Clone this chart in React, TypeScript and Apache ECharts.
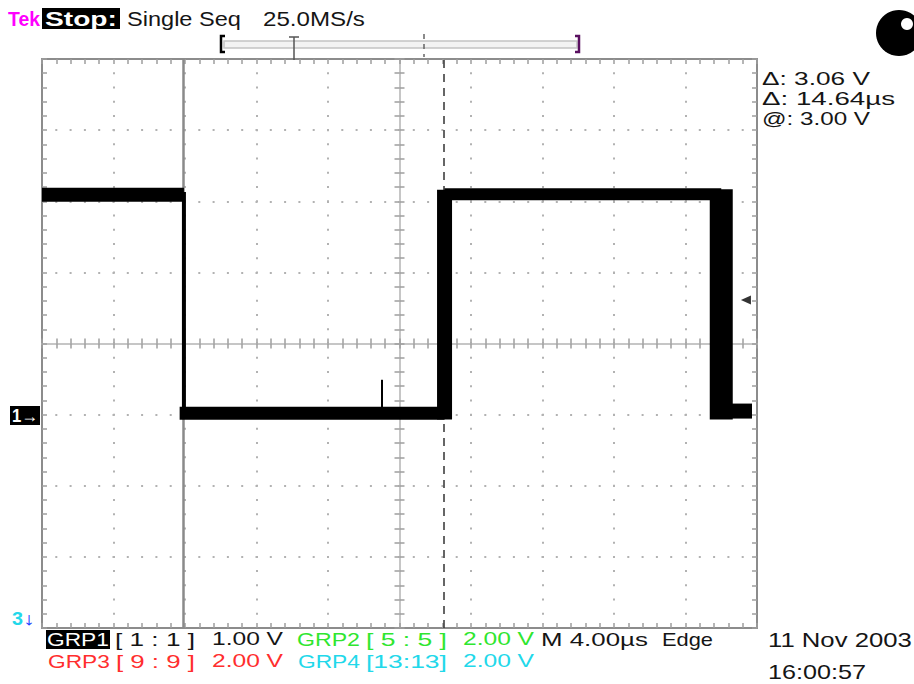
import React, { useEffect, useRef } from 'react';
import * as echarts from 'echarts';

// ---- data (time in µs relative to screen centre, 4 µs/div; level in divisions) ----
const timeRange = [-20, 20];
const levelRange = [-4, 4];
const traceHigh1: [number, number][] = [[-20, 2.09], [-12.06, 2.09]];
const traceFall1: [number, number][] = [[-12.06, 2.13], [-12.06, -0.98]];
const traceLow1: [number, number][] = [[-12.3, -0.98], [2.52, -0.98]];
const traceGlitch: [number, number][] = [[-0.98, -0.98], [-0.98, -0.51]];
const traceRise: [number, number][] = [[2.52, -1.07], [2.52, 2.16]];
const traceHigh2: [number, number][] = [[2.52, 2.1], [18.0, 2.1]];
const traceFall2: [number, number][] = [[18.0, 2.17], [18.0, -1.07]];
const traceLow2: [number, number][] = [[18.0, -0.95], [19.72, -0.95]];
const cursorTimes = [-12.1, 2.45];
const triggerMarker: [number, number][] = [[19.38, 0.61]];

const FONT = '"Liberation Sans", Arial, sans-serif';
const INK = '#151515';
const GREEN = '#2fe62f';
const RED = '#ff2e2e';
const CYAN = '#22d8ea';

type Seg = { t: string; x: number; y: number; w: number; c: string; size: number; bold?: boolean };

const segs: Seg[] = [
  { t: 'Tek', x: 8, y: 19, w: 32, c: '#ff00ff', size: 20, bold: true },
  { t: 'Stop:', x: 45, y: 19, w: 72, c: '#ffffff', size: 20, bold: true },
  { t: 'Single Seq', x: 127, y: 19, w: 114, c: INK, size: 20 },
  { t: '25.0MS/s', x: 263, y: 19, w: 102, c: INK, size: 20 },
  { t: 'Δ: 3.06 V', x: 762, y: 78, w: 108, c: INK, size: 19 },
  { t: 'Δ: 14.64µs', x: 762, y: 98, w: 133, c: INK, size: 19 },
  { t: '@: 3.00 V', x: 762, y: 118, w: 108, c: INK, size: 19 },
  { t: 'GRP1', x: 47, y: 639, w: 62, c: '#ffffff', size: 19 },
  { t: '[ 1 : 1 ]', x: 115, y: 639, w: 80, c: INK, size: 19 },
  { t: '1.00 V', x: 212, y: 639, w: 71, c: INK, size: 19 },
  { t: 'GRP2', x: 297, y: 639, w: 63, c: GREEN, size: 19 },
  { t: '[ 5 : 5 ]', x: 366, y: 639, w: 81, c: GREEN, size: 19 },
  { t: '2.00 V', x: 463, y: 639, w: 71, c: GREEN, size: 19 },
  { t: 'M 4.00µs', x: 541, y: 639, w: 107, c: INK, size: 19 },
  { t: 'Edge', x: 662, y: 639, w: 51, c: INK, size: 19 },
  { t: 'GRP3', x: 48, y: 661, w: 62, c: RED, size: 19 },
  { t: '[ 9 : 9 ]', x: 116, y: 661, w: 79, c: RED, size: 19 },
  { t: '2.00 V', x: 212, y: 661, w: 71, c: RED, size: 19 },
  { t: 'GRP4', x: 298, y: 661, w: 62, c: CYAN, size: 19 },
  { t: '[13:13]', x: 366, y: 661, w: 81, c: CYAN, size: 19 },
  { t: '2.00 V', x: 463, y: 661, w: 71, c: CYAN, size: 19 },
  { t: '11 Nov 2003', x: 768, y: 640, w: 144, c: INK, size: 20 },
  { t: '16:00:57', x: 768, y: 672, w: 98, c: INK, size: 20 },
  { t: '1→', x: 12, y: 416, w: 26, c: '#ffffff', size: 18, bold: true },
  { t: '3', x: 12, y: 619, w: 11, c: CYAN, size: 18, bold: true },
  { t: '↓', x: 23, y: 619, w: 12, c: '#2244ff', size: 18, bold: true },
];

function measure(text: string, size: number, bold?: boolean): number {
  const ctx = document.createElement('canvas').getContext('2d');
  if (!ctx) return text.length * size * 0.55;
  ctx.font = `${bold ? 'bold' : 'normal'} ${size}px ${FONT}`;
  return ctx.measureText(text).width || 1;
}

function textEl(s: Seg) {
  const mw = measure(s.t, s.size, s.bold);
  return {
    type: 'text',
    x: s.x,
    y: s.y,
    scaleX: s.w / mw,
    silent: true,
    z: 10,
    style: {
      text: s.t,
      fill: s.c,
      fontSize: s.size,
      fontFamily: FONT,
      fontWeight: s.bold ? 'bold' : 'normal',
      align: 'left',
      verticalAlign: 'middle',
    },
  };
}

const BORDER = '#8c8c8c';
const TICKC = '#9e9e9e';

function trace(name: string, data: [number, number][], width: number) {
  return {
    type: 'line',
    name,
    data,
    xAxisIndex: 0,
    yAxisIndex: 0,
    symbol: 'none',
    silent: true,
    z: 3,
    lineStyle: { color: '#000', width, cap: 'butt' },
  };
}

export default function App() {
  const ref = useRef<HTMLDivElement>(null);
  useEffect(() => {
    if (!ref.current) return;
    const chart = echarts.init(ref.current, undefined, { renderer: 'svg' });
    const borderAxisLine = { show: true, onZero: false, lineStyle: { color: BORDER, width: 2 } };
    const inTick = { show: true, inside: true, length: 5, lineStyle: { color: TICKC, width: 1.5 } };
    const outTick = { show: true, inside: false, length: 5, lineStyle: { color: TICKC, width: 1.5 } };
    const minor = { show: true, splitNumber: 5, length: 5, lineStyle: { color: TICKC, width: 1.5 } };
    const centreLine = (idx: number) => ({ show: true, onZero: true, onZeroAxisIndex: idx, lineStyle: { color: '#c6c6c6', width: 2 } });
    const baseX = { type: 'value', min: timeRange[0], max: timeRange[1], interval: 4, axisLabel: { show: false }, splitLine: { show: false } };
    const baseY = { type: 'value', min: levelRange[0], max: levelRange[1], interval: 1, axisLabel: { show: false }, splitLine: { show: false } };

    const graphics: any[] = [
      { type: 'rect', shape: { x: 42, y: 8, width: 78, height: 21 }, style: { fill: '#000' }, z: 9 },
      { type: 'rect', shape: { x: 46, y: 630, width: 64, height: 19 }, style: { fill: '#000' }, z: 9 },
      { type: 'rect', shape: { x: 10, y: 406, width: 30, height: 19 }, style: { fill: '#000' }, z: 9 },
      { type: 'circle', shape: { cx: 899, cy: 33, r: 23 }, style: { fill: '#000' }, z: 9 },
      { type: 'circle', shape: { cx: 907, cy: 24, r: 6 }, style: { fill: '#fff' }, z: 10 },
      { type: 'rect', shape: { x: 224, y: 41, width: 353, height: 7 }, style: { fill: '#f3f3f3', stroke: '#c4c4c4', lineWidth: 1.5 }, z: 9 },
      { type: 'polyline', shape: { points: [[225, 36], [221, 36], [221, 52], [225, 52]] }, style: { stroke: '#000', lineWidth: 2.5, fill: 'none' }, z: 10 },
      { type: 'polyline', shape: { points: [[575, 36], [579, 36], [579, 52], [575, 52]] }, style: { stroke: '#5a1060', lineWidth: 2.5, fill: 'none' }, z: 10 },
      { type: 'line', shape: { x1: 289, y1: 37, x2: 299, y2: 37 }, style: { stroke: '#555', lineWidth: 1.5 }, z: 10 },
      { type: 'line', shape: { x1: 294, y1: 37, x2: 294, y2: 60 }, style: { stroke: '#555', lineWidth: 1.5 }, z: 10 },
      { type: 'line', shape: { x1: 424, y1: 34, x2: 424, y2: 57 }, style: { stroke: '#666', lineWidth: 1.5, lineDash: [5, 5] }, z: 10 },
      ...segs.map(textEl),
    ];

    chart.setOption({
      animation: false,
      backgroundColor: '#ffffff',
      grid: { left: 42, top: 59, width: 715, height: 569, containLabel: false },
      xAxis: [
        {
          ...baseX, position: 'bottom', axisLine: borderAxisLine, axisTick: inTick, minorTick: minor,
          splitLine: { show: true, lineStyle: { color: '#b2b2b2', width: 2, type: [2, 12.225], dashOffset: 1 } },
        },
        { ...baseX, position: 'top', axisLine: borderAxisLine, axisTick: inTick, minorTick: minor },
        { ...baseX, position: 'bottom', axisLine: centreLine(0), axisTick: inTick, minorTick: minor },
        { ...baseX, position: 'bottom', axisLine: centreLine(0), axisTick: outTick, minorTick: minor },
      ],
      yAxis: [
        {
          ...baseY, position: 'left', axisLine: borderAxisLine, axisTick: inTick, minorTick: minor,
          splitLine: { show: true, lineStyle: { color: '#b2b2b2', width: 2, type: [2, 12.3], dashOffset: 1 } },
        },
        { ...baseY, position: 'right', axisLine: borderAxisLine, axisTick: inTick, minorTick: minor },
        { ...baseY, position: 'left', axisLine: centreLine(0), axisTick: inTick, minorTick: minor },
        { ...baseY, position: 'left', axisLine: centreLine(0), axisTick: outTick, minorTick: minor },
      ],
      series: [
        {
          type: 'line', name: 'cursors', data: [], xAxisIndex: 0, yAxisIndex: 0, silent: true,
          markLine: {
            z: 1, silent: true, symbol: ['none', 'none'], label: { show: false }, animation: false,
            data: [
              { xAxis: cursorTimes[0], lineStyle: { color: '#8a8a8a', width: 2.5, type: 'solid' } },
              { xAxis: cursorTimes[1], lineStyle: { color: '#333', width: 1.5, type: [8, 6] } },
            ],
          },
        },
        trace('high1', traceHigh1, 14),
        trace('fall1', traceFall1, 4),
        trace('low1', traceLow1, 13),
        trace('glitch', traceGlitch, 2),
        trace('rise', traceRise, 15),
        trace('high2', traceHigh2, 12),
        trace('fall2', traceFall2, 23),
        trace('low2', traceLow2, 15),
        {
          type: 'scatter', name: 'trigger', data: triggerMarker, xAxisIndex: 0, yAxisIndex: 0,
          symbol: 'triangle', symbolSize: [9, 10], symbolRotate: 90, itemStyle: { color: '#000' }, z: 4, silent: true,
        },
      ],
      graphic: graphics,
    });
    return () => chart.dispose();
  }, []);
  return (
    <div
      ref={ref}
      style={{ position: 'absolute', left: 0, top: 0, width: 914, height: 684, background: '#fff' }}
    />
  );
}
